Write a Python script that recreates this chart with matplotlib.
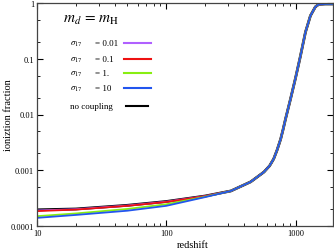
import numpy as np
import matplotlib
matplotlib.use("Agg")
import matplotlib.pyplot as plt
from matplotlib.ticker import FixedLocator, LogLocator, NullFormatter

plt.rcParams['font.family'] = ['Liberation Serif', 'DejaVu Serif']
plt.rcParams['mathtext.fontset'] = 'stix'

# shared high-redshift part of the ionization history
z_hi = [316, 450, 570, 630, 678, 720, 767, 800, 837, 915, 1000, 1090, 1194, 1304, 1425, 1500, 1560, 1700, 1950]
xe_hi = [4.25e-4, 6.2e-4, 9.3e-4, 1.2e-3, 1.6e-3, 2.3e-3, 3.6e-3, 5.3e-3, 8.3e-3, 0.019, 0.045, 0.11, 0.30, 0.59, 0.855, 0.93, 0.95, 0.96, 0.96]

# low-redshift part, per model
z_lo = [10, 20, 50, 100, 200]
xe_none = [1.95e-4, 2.02e-4, 2.35e-4, 2.75e-4, 3.45e-4]
xe_001 = [1.9e-4, 2.0e-4, 2.33e-4, 2.73e-4, 3.44e-4]
xe_01 = [1.85e-4, 1.97e-4, 2.3e-4, 2.7e-4, 3.42e-4]
xe_1 = [1.5e-4, 1.68e-4, 2.02e-4, 2.45e-4, 3.35e-4]
xe_10 = [1.4e-4, 1.58e-4, 1.88e-4, 2.3e-4, 3.3e-4]

labels = ['= 0.01', '= 0.1', '= 1.', '= 10']
colors = ['#b060ff', '#ee1111', '#88ee11', '#2255ee', 'black']
series = [xe_001, xe_01, xe_1, xe_10, xe_none]

fig = plt.figure(figsize=(3.34, 2.53), dpi=100)
ax = fig.add_axes([37/334, 1 - 227/253, (333-37)/334, (227-4)/253])

z_all = z_lo + z_hi
ax.plot(z_all, xe_none + xe_hi, color='black', lw=2.0)
for i in [0, 1, 2, 3]:
    ax.plot(z_all, series[i] + xe_hi, color=colors[i], lw=1.3)

ax.set_xscale('log')
ax.set_yscale('log')
ax.set_xlim(10, 1950)
ax.set_ylim(1e-4, 1)

ax.xaxis.set_major_locator(FixedLocator([10, 100, 1000]))
ax.set_xticklabels(['10', '100', '1000'])
ax.yaxis.set_major_locator(FixedLocator([1e-4, 1e-3, 1e-2, 1e-1, 1]))
ax.set_yticklabels(['0.0001', '0.001', '0.01', '0.1', '1'])
ax.xaxis.set_minor_locator(LogLocator(subs=np.arange(2, 10)))
ax.yaxis.set_minor_locator(FixedLocator([v * 10.0**k for k in range(-4, 0) for v in (2, 5)]))
ax.xaxis.set_minor_formatter(NullFormatter())
ax.yaxis.set_minor_formatter(NullFormatter())
ax.tick_params(which='both', direction='in', top=True, right=True, labelsize=6, pad=2)
ax.tick_params(which='major', length=4, width=0.8)
ax.tick_params(which='minor', length=2, width=0.6)
for s in ax.spines.values():
    s.set_color('#444444')
    s.set_linewidth(0.9)

ax.set_xlabel('redshift', fontsize=7.5)
ax.xaxis.set_label_coords(0.528, -0.065)
ax.set_ylabel('ioniztion fraction', fontsize=7.5)
ax.yaxis.set_label_coords(-0.082, 0.5)

# legend drawn by hand: left-aligned labels, keys in one column
tr = ax.transAxes
ax.text((63-37)/296, 0.928, r'$m_d\,=\,m_{\rm H}$', transform=tr, fontsize=11, va='center')
key_y = [44, 60, 74, 89]
for i, lab in enumerate(labels):
    yy = (227 - key_y[i]) / 223
    ax.text((70-37)/296, yy, r'$\sigma_{17}$', transform=tr, fontsize=6.5, va='center')
    ax.text((95-37)/296, yy, lab, transform=tr, fontsize=6.5, va='center')
    ax.plot([(124-37)/296, (151-37)/296], [yy, yy], transform=tr, color=colors[i], lw=1.5)
yy = (227 - 107) / 223
ax.text((70-37)/296, yy, 'no coupling', transform=tr, fontsize=6.5, va='center')
ax.plot([(126-37)/296, (148-37)/296], [yy, yy], transform=tr, color=colors[4], lw=1.5)

fig.savefig('out.png', dpi=100)
